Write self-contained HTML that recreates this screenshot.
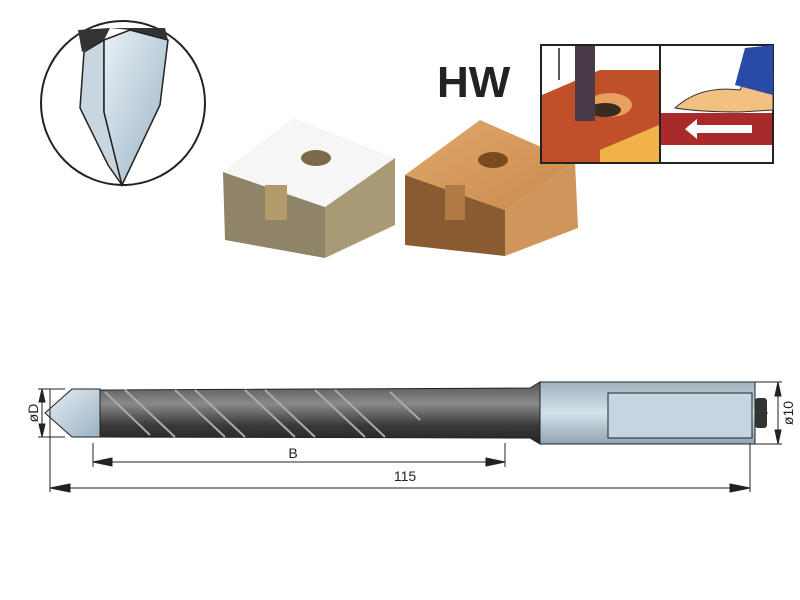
<!DOCTYPE html>
<html><head><style>body{margin:0;background:#fff}svg{display:block}</style></head><body>
<svg width="800" height="600" xmlns="http://www.w3.org/2000/svg" font-family="Liberation Sans, sans-serif">
<defs>
<linearGradient id="steel" x1="0" y1="0" x2="0" y2="1"><stop offset="0" stop-color="#555"/><stop offset=".35" stop-color="#8a8a8a"/><stop offset=".7" stop-color="#3a3a3a"/><stop offset="1" stop-color="#222"/></linearGradient>
<linearGradient id="shank" x1="0" y1="0" x2="0" y2="1"><stop offset="0" stop-color="#9fb3c0"/><stop offset=".5" stop-color="#d4e2ea"/><stop offset="1" stop-color="#8fa4b2"/></linearGradient>
<linearGradient id="tipg" x1="0" y1="0" x2="1" y2="1"><stop offset="0" stop-color="#e8f0f6"/><stop offset="1" stop-color="#9ab2c4"/></linearGradient>
<linearGradient id="wood" x1="0" y1="0" x2="1" y2="1"><stop offset="0" stop-color="#e0a86a"/><stop offset="1" stop-color="#c98a4c"/></linearGradient>
</defs>
<circle cx="123" cy="103" r="82" fill="#fff" stroke="#222" stroke-width="2"/>
<path d="M78 30 L110 28 L104 40 L82 52 Z" fill="#333"/>
<path d="M110 28 L165 28 L168 40 L130 30 Z" fill="#333"/>
<path d="M84 52 L104 40 L104 112 L122 185 L108 165 L80 108 Z" fill="#c7d6e0" stroke="#222" stroke-width="1.5"/>
<path d="M104 40 L130 30 L168 40 L160 105 L122 185 L104 112 Z" fill="url(#tipg)" stroke="#222" stroke-width="1.5"/>
<text x="437" y="97" font-size="44" font-weight="bold" fill="#222">HW</text>
<!-- white board -->
<polygon points="223,172 325,207 325,258 225,240" fill="#8f8468"/>
<polygon points="325,207 395,158 395,225 325,258" fill="#a89a74"/>
<polygon points="223,172 293,118 395,158 325,207" fill="#f6f6f6"/>
<ellipse cx="316" cy="158" rx="15" ry="8" fill="#7a6a4a"/>
<rect x="265" y="185" width="22" height="35" fill="#b39a6a"/>
<!-- wood board -->
<polygon points="405,175 505,210 505,256 405,245" fill="#8a5a30"/>
<polygon points="505,210 575,162 578,228 505,256" fill="#d0955a"/>
<polygon points="405,175 480,120 575,162 505,210" fill="url(#wood)"/>
<ellipse cx="493" cy="160" rx="15" ry="8" fill="#7a4a22"/>
<rect x="445" y="185" width="20" height="35" fill="#b07a44"/>
<!-- icon box -->
<rect x="541" y="45" width="232" height="118" fill="#fff" stroke="#222" stroke-width="2"/>
<polygon points="542,95 600,70 659,70 659,162 542,162" fill="#c0502a"/>
<polygon points="600,150 659,125 659,162 600,162" fill="#f2b24a"/>
<ellipse cx="610" cy="105" rx="22" ry="12" fill="#e8a060"/>
<ellipse cx="605" cy="110" rx="16" ry="7" fill="#3a2a20"/>
<rect x="575" y="46" width="20" height="75" fill="#4a3a48"/>
<line x1="559" y1="48" x2="559" y2="80" stroke="#222" stroke-width="1.5"/>
<line x1="660" y1="45" x2="660" y2="163" stroke="#222" stroke-width="2"/>
<rect x="661" y="113" width="111" height="32" fill="#a82a2a"/>
<polygon points="685,129 697,119 697,125 752,125 752,133 697,133 697,139" fill="#fff"/>
<path d="M675 108 Q700 85 740 90 L750 70 L773 75 L773 110 L740 112 Q700 112 675 108 Z" fill="#f2c080" stroke="#333"/>
<polygon points="745,48 773,45 773,95 735,85" fill="#2a4aa8"/>
<!-- drill -->
<line x1="45" y1="413" x2="770" y2="413" stroke="#333" stroke-width="1" stroke-dasharray="14,3,2,3"/>
<path d="M100 390 L530 388 L540 382 L540 444 L530 438 L100 437 Z" fill="url(#steel)" stroke="#222"/>
<g stroke="#aaa" stroke-width="2" fill="none">
<path d="M105 392 L150 435 M125 390 L175 437 M175 390 L225 437 M195 390 L245 437 M245 390 L295 437 M265 390 L315 437 M315 390 L365 437 M335 390 L385 437 M390 392 L420 420"/>
</g>
<path d="M45 413 L72 389 L100 389 L100 437 L72 437 Z" fill="url(#tipg)" stroke="#222"/>
<rect x="540" y="382" width="215" height="62" fill="url(#shank)" stroke="#222"/>
<rect x="608" y="393" width="144" height="45" fill="#c4d6e0" stroke="#222"/>
<rect x="755" y="398" width="12" height="30" fill="#333" rx="3"/>
<g stroke="#222" stroke-width="1" fill="#222">
<line x1="50" y1="389" x2="50" y2="492"/><line x1="750" y1="444" x2="750" y2="492"/>
<line x1="93" y1="443" x2="93" y2="467"/><line x1="505" y1="443" x2="505" y2="467"/>
<line x1="93" y1="462" x2="505" y2="462"/>
<polygon points="93,462 112,458 112,466"/><polygon points="505,462 486,458 486,466"/>
<line x1="50" y1="488" x2="750" y2="488"/>
<polygon points="50,488 70,484 70,492"/><polygon points="750,488 730,484 730,492"/>
<line x1="42" y1="389" x2="42" y2="437"/><line x1="38" y1="389" x2="65" y2="389"/><line x1="38" y1="437" x2="65" y2="437"/>
<polygon points="42,389 39,402 45,402"/><polygon points="42,437 39,424 45,424"/>
<line x1="778" y1="382" x2="778" y2="444"/><line x1="755" y1="382" x2="782" y2="382"/><line x1="755" y1="444" x2="782" y2="444"/>
<polygon points="778,382 775,396 781,396"/><polygon points="778,444 775,430 781,430"/>
</g>
<text x="293" y="458" font-size="14" text-anchor="middle" fill="#222">B</text>
<text x="405" y="481" font-size="14" text-anchor="middle" fill="#222">115</text>
<text transform="translate(38,413) rotate(-90)" font-size="14" text-anchor="middle" fill="#222">øD</text>
<text transform="translate(793,413) rotate(-90)" font-size="14" text-anchor="middle" fill="#222">ø10</text>
</svg>
</body></html>
